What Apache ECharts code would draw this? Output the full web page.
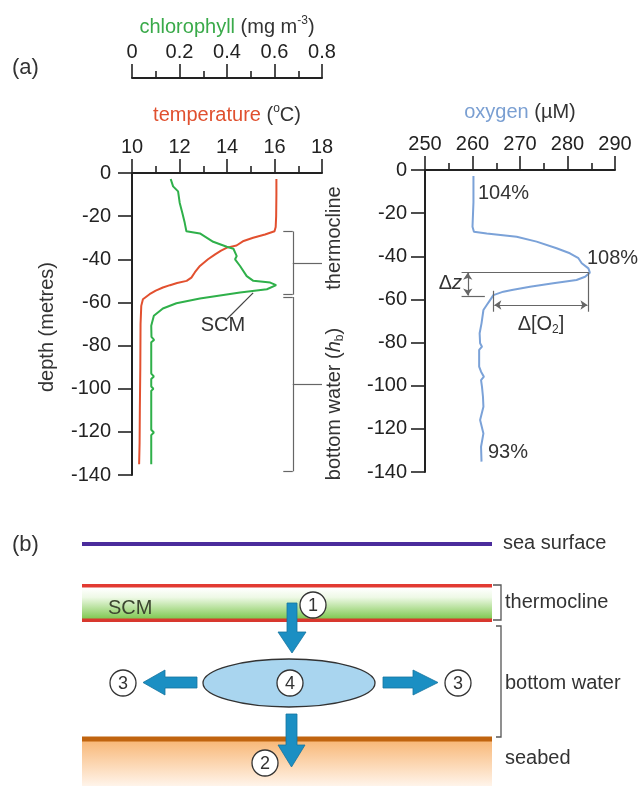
<!DOCTYPE html>
<html>
<head>
<meta charset="utf-8">
<script src="https://cdn.jsdelivr.net/npm/echarts@6/dist/echarts.min.js"></script>
<style>
  html, body { margin: 0; padding: 0; background: #fff; }
  #chart { width: 638px; height: 786px; }
</style>
</head>
<body>
<div id="chart"></div>
<script>
  // temperature profile (°C vs depth m)
  var tempDepth = [-2.8, -10, -20, -25, -27, -28.5, -30, -31.5, -33.6, -34.6, -36, -37.7, -40, -43.1, -46, -48.5, -50, -51, -52, -53.1, -54.5, -56.2, -58.5, -61.6, -70, -90, -110, -125, -135];
  var tempC = [16.08, 16.08, 16.07, 16.05, 16.0, 15.6, 15.1, 14.7, 14.4, 14.0, 13.75, 13.5, 13.2, 12.86, 12.65, 12.5, 12.3, 11.9, 11.6, 11.3, 11.0, 10.74, 10.46, 10.39, 10.36, 10.35, 10.33, 10.32, 10.3];

  // chlorophyll profile (mg m-3 vs depth m)
  var chlDepth = [-2.8, -6.2, -8.5, -13.9, -18.5, -23.1, -27, -28, -31.9, -34.2, -35.1, -38.5, -40, -43.1, -47.8, -50, -50.8, -52, -53.9, -55.4, -58.2, -60.4, -62.8, -66.2, -70.8, -76, -77.4, -78.5, -93, -94.3, -95.5, -99, -100, -101, -119, -120.3, -121.5, -135];
  var chlValue = [0.163, 0.173, 0.194, 0.201, 0.212, 0.222, 0.229, 0.286, 0.342, 0.399, 0.427, 0.441, 0.434, 0.455, 0.483, 0.511, 0.582, 0.607, 0.568, 0.455, 0.286, 0.187, 0.130, 0.092, 0.081, 0.082, 0.093, 0.081, 0.081, 0.092, 0.081, 0.081, 0.090, 0.081, 0.081, 0.092, 0.081, 0.081];

  // oxygen profile (µM vs depth m)
  var oxyDepth = [-2.8, -15, -26.3, -28.6, -29.4, -30.9, -33.2, -36.3, -38.6, -40.9, -43.2, -45.6, -47.6, -49.5, -51, -52.5, -54.1, -55.6, -56.4, -58, -60.3, -62.6, -64.9, -71.1, -75.7, -80.3, -81.9, -83.4, -91.2, -93.5, -95.8, -97.4, -100.5, -105, -109.7, -115.9, -122.1, -128.3, -135.2];
  var oxyValue = [260.2, 260.2, 260.0, 260.3, 263.0, 269.3, 273.5, 277.7, 280.5, 282.3, 283.0, 284.4, 284.7, 283.7, 281.9, 277.0, 272.1, 268.3, 266.5, 264.4, 263.7, 263.0, 262.3, 261.9, 261.5, 261.6, 262.0, 261.4, 261.4, 261.8, 262.4, 261.8, 262.0, 262.2, 262.3, 261.6, 262.3, 261.8, 261.9];

  var depthTicks = { min: -140, max: 0, interval: 20 };
  var tempTicks = { min: 10, max: 18, interval: 2 };
  var chlTicks = { min: 0, max: 0.8, interval: 0.2 };
  var oxyTicks = { min: 250, max: 290, interval: 10 };

  function zip(xs, ys) {
    return xs.map(function (x, i) { return [x, ys[i]]; });
  }

  var ink = '#222';
  var txt = '#333';
  var font = 'Liberation Sans';

  function xAxisCfg(grid, t, offset) {
    return {
      gridIndex: grid, type: 'value', position: 'top', offset: offset || 0,
      min: t.min, max: t.max, interval: t.interval,
      axisLine: { onZero: false, lineStyle: { color: ink, width: 2 } },
      axisTick: { length: 14, lineStyle: { color: ink, width: 1.6 } },
      minorTick: { show: true, splitNumber: 2, length: 7, lineStyle: { color: ink, width: 1.6 } },
      axisLabel: { fontSize: 20, color: ink, margin: 16, fontFamily: font },
      splitLine: { show: false }, minorSplitLine: { show: false }
    };
  }
  function yAxisCfg(grid, margin) {
    return {
      gridIndex: grid, type: 'value', min: depthTicks.min, max: depthTicks.max, interval: depthTicks.interval,
      axisLine: { onZero: false, lineStyle: { color: ink, width: 2 } },
      axisTick: { length: 14, lineStyle: { color: ink, width: 1.6 } },
      axisLabel: { fontSize: 20, color: ink, margin: margin, fontFamily: font },
      splitLine: { show: false }
    };
  }
  function seg(a, b, arrows) {
    var s = arrows ? 'arrow' : 'none';
    return [{ coord: a, symbol: s }, { coord: b, symbol: s }];
  }

  var chart = echarts.init(document.getElementById('chart'));

  var rich = {
    n: { fontSize: 20, fill: txt, fontFamily: font, lineHeight: 24 },
    g: { fontSize: 20, fill: '#3aaa4a', fontFamily: font, lineHeight: 24 },
    r: { fontSize: 20, fill: '#e0502f', fontFamily: font, lineHeight: 24 },
    b: { fontSize: 20, fill: '#7a9fd2', fontFamily: font, lineHeight: 24 },
    sup: { fontSize: 12, fill: txt, fontFamily: font, verticalAlign: 'top', lineHeight: 24 },
    sub: { fontSize: 12, fill: txt, fontFamily: font, verticalAlign: 'bottom', lineHeight: 20 },
    it: { fontSize: 20, fill: txt, fontFamily: font, fontStyle: 'italic', lineHeight: 24 }
  };

  function label(x, y, text, opt) {
    opt = opt || {};
    return {
      type: 'text', x: x, y: y, rotation: opt.rot || 0, z: 50,
      style: {
        text: text, rich: rich, font: (opt.size || 20) + 'px "' + font + '"',
        fill: opt.color || txt, align: opt.align || 'left', verticalAlign: 'middle'
      }
    };
  }
  function circ(cx, cy, num) {
    return [
      { type: 'circle', shape: { cx: cx, cy: cy, r: 13 }, z: 40, style: { fill: '#fff', stroke: '#333', lineWidth: 1.3 } },
      label(cx, cy + 1, num, { align: 'center', size: 18 })
    ];
  }
  function arrow(points) {
    return { type: 'polygon', shape: { points: points }, z: 30, style: { fill: '#1b8fc3', stroke: '#15739e', lineWidth: 0.8 } };
  }

  var panelB = [
    // sea surface
    { type: 'rect', shape: { x: 82, y: 542, width: 410, height: 4 }, style: { fill: '#4b2c9c' } },
    // thermocline / SCM band
    { type: 'rect', shape: { x: 82, y: 588, width: 410, height: 31 }, style: {
      fill: new echarts.graphic.LinearGradient(0, 0, 0, 1, [
        { offset: 0, color: '#ffffff' }, { offset: 0.3, color: '#eef9e6' }, { offset: 1, color: '#7ec850' }]) } },
    { type: 'rect', shape: { x: 82, y: 584, width: 410, height: 3.5 }, style: { fill: '#e23a32' } },
    { type: 'rect', shape: { x: 82, y: 618.5, width: 410, height: 3.5 }, style: { fill: '#d8382e' } },
    // seabed
    { type: 'rect', shape: { x: 82, y: 741, width: 410, height: 45 }, style: {
      fill: new echarts.graphic.LinearGradient(0, 0, 0, 1, [
        { offset: 0, color: '#f8b878' }, { offset: 1, color: '#fff4ea' }]) } },
    { type: 'rect', shape: { x: 82, y: 736.5, width: 410, height: 5 }, style: { fill: '#c0640f' } },
    // ellipse
    { type: 'ellipse', shape: { cx: 289, cy: 683, rx: 86, ry: 24 }, z: 20, style: { fill: '#a9d5ef', stroke: '#333', lineWidth: 1.3 } },
    // arrows
    arrow([[287, 603], [297, 603], [297, 632], [306, 632], [292, 653], [278, 632], [287, 632]]),
    arrow([[286, 714], [297, 714], [297, 745], [305, 745], [291.5, 767], [278, 745], [286, 745]]),
    arrow([[197, 677], [197, 688], [165, 688], [165, 695], [143, 682.5], [165, 670], [165, 677]]),
    arrow([[383, 677], [383, 688], [413, 688], [413, 695], [438, 682.5], [413, 670], [413, 677]]),
    // brackets
    { type: 'polyline', shape: { points: [[493, 585], [501, 585], [501, 620], [493, 620]] }, style: { stroke: '#555', lineWidth: 1.3, fill: null } },
    { type: 'polyline', shape: { points: [[496, 626], [501, 626], [501, 737], [496, 737]] }, style: { stroke: '#555', lineWidth: 1.3, fill: null } },
    label(503, 543, 'sea surface'),
    label(505, 602, 'thermocline'),
    label(505, 683, 'bottom water'),
    label(505, 758, 'seabed'),
    label(108, 608, 'SCM', { color: '#3c4630' }),
    label(12, 545, '(b)', { size: 22 })
  ].concat(circ(313, 605, '1'), circ(290, 683, '4'), circ(123, 683, '3'), circ(458, 683, '3'), circ(265, 763, '2'));

  var panelA = [
    label(12, 68, '(a)', { size: 22 }),
    label(227, 27, '{g|chlorophyll}{n| (mg m}{sup|-3}{n|)}', { align: 'center' }),
    label(227, 115, '{r|temperature}{n| (}{sup|o}{n|C)}', { align: 'center' }),
    label(520, 112, '{b|oxygen}{n| (µM)}', { align: 'center' }),
    label(47, 327, 'depth (metres)', { align: 'center', rot: Math.PI / 2 }),
    label(334, 238, 'thermocline', { align: 'center', rot: Math.PI / 2 }),
    label(334, 404, '{n|bottom water (}{it|h}{sub|b}{n|)}', { align: 'center', rot: Math.PI / 2 }),
    label(223, 325, 'SCM', { align: 'center' }),
    label(478, 193, '104%'),
    label(587, 258, '108%'),
    label(488, 452, '93%'),
    label(462, 283, '{n|Δ}{it|z}', { align: 'right' }),
    label(541, 324, '{n|Δ[O}{sub|2}{n|]}', { align: 'center' })
  ];

  var guide = { color: '#666', width: 1.2, type: 'solid' };

  chart.setOption({
    animation: false,
    backgroundColor: '#fff',
    textStyle: { fontFamily: font },
    grid: [
      { left: 132, top: 173, width: 190, height: 302 },
      { left: 425, top: 170, width: 190, height: 302 }
    ],
    xAxis: [
      xAxisCfg(0, tempTicks, 0),
      xAxisCfg(0, chlTicks, 95),
      xAxisCfg(1, oxyTicks, 0)
    ],
    yAxis: [yAxisCfg(0, 21), yAxisCfg(1, 18)],
    series: [
      {
        name: 'temperature', type: 'line', xAxisIndex: 0, yAxisIndex: 0,
        data: zip(tempC, tempDepth), symbol: 'none',
        lineStyle: { color: '#e2502f', width: 2 },
        markLine: {
          silent: true, symbol: 'none', label: { show: false }, lineStyle: guide,
          data: [
            seg([16.37, -27.1], [16.77, -27.1]), seg([16.77, -27.1], [16.77, -56.4]),
            seg([16.37, -56.4], [16.77, -56.4]), seg([16.77, -42], [18, -42]),
            seg([16.37, -57.5], [16.77, -57.5]), seg([16.77, -57.5], [16.77, -138.3]),
            seg([16.37, -138.3], [16.77, -138.3]), seg([16.77, -98.1], [18, -98.1])
          ]
        }
      },
      {
        name: 'chlorophyll', type: 'line', xAxisIndex: 1, yAxisIndex: 0,
        data: zip(chlValue, chlDepth), symbol: 'none',
        lineStyle: { color: '#2fb04a', width: 2 },
        markLine: {
          silent: true, symbol: 'none', label: { show: false },
          lineStyle: { color: '#444', width: 1.2, type: 'solid' },
          data: [seg([0.4, -67.7], [0.51, -55.6])]
        }
      },
      {
        name: 'oxygen', type: 'line', xAxisIndex: 2, yAxisIndex: 1,
        data: zip(oxyValue, oxyDepth), symbol: 'none',
        lineStyle: { color: '#7ba2d8', width: 2 },
        markLine: {
          silent: true, symbolSize: 7, label: { show: false }, lineStyle: guide,
          data: [
            seg([257.7, -47.4], [284.4, -47.4]), seg([257.7, -58.4], [262.6, -58.4]),
            seg([284.4, -47.4], [284.4, -65.7]), seg([264.4, -56], [264.4, -65.7]),
            seg([264.6, -62.6], [284.2, -62.6], true), seg([259, -47.6], [259, -58.2], true)
          ]
        }
      }
    ],
    graphic: { elements: panelA.concat(panelB) }
  });
</script>
</body>
</html>
